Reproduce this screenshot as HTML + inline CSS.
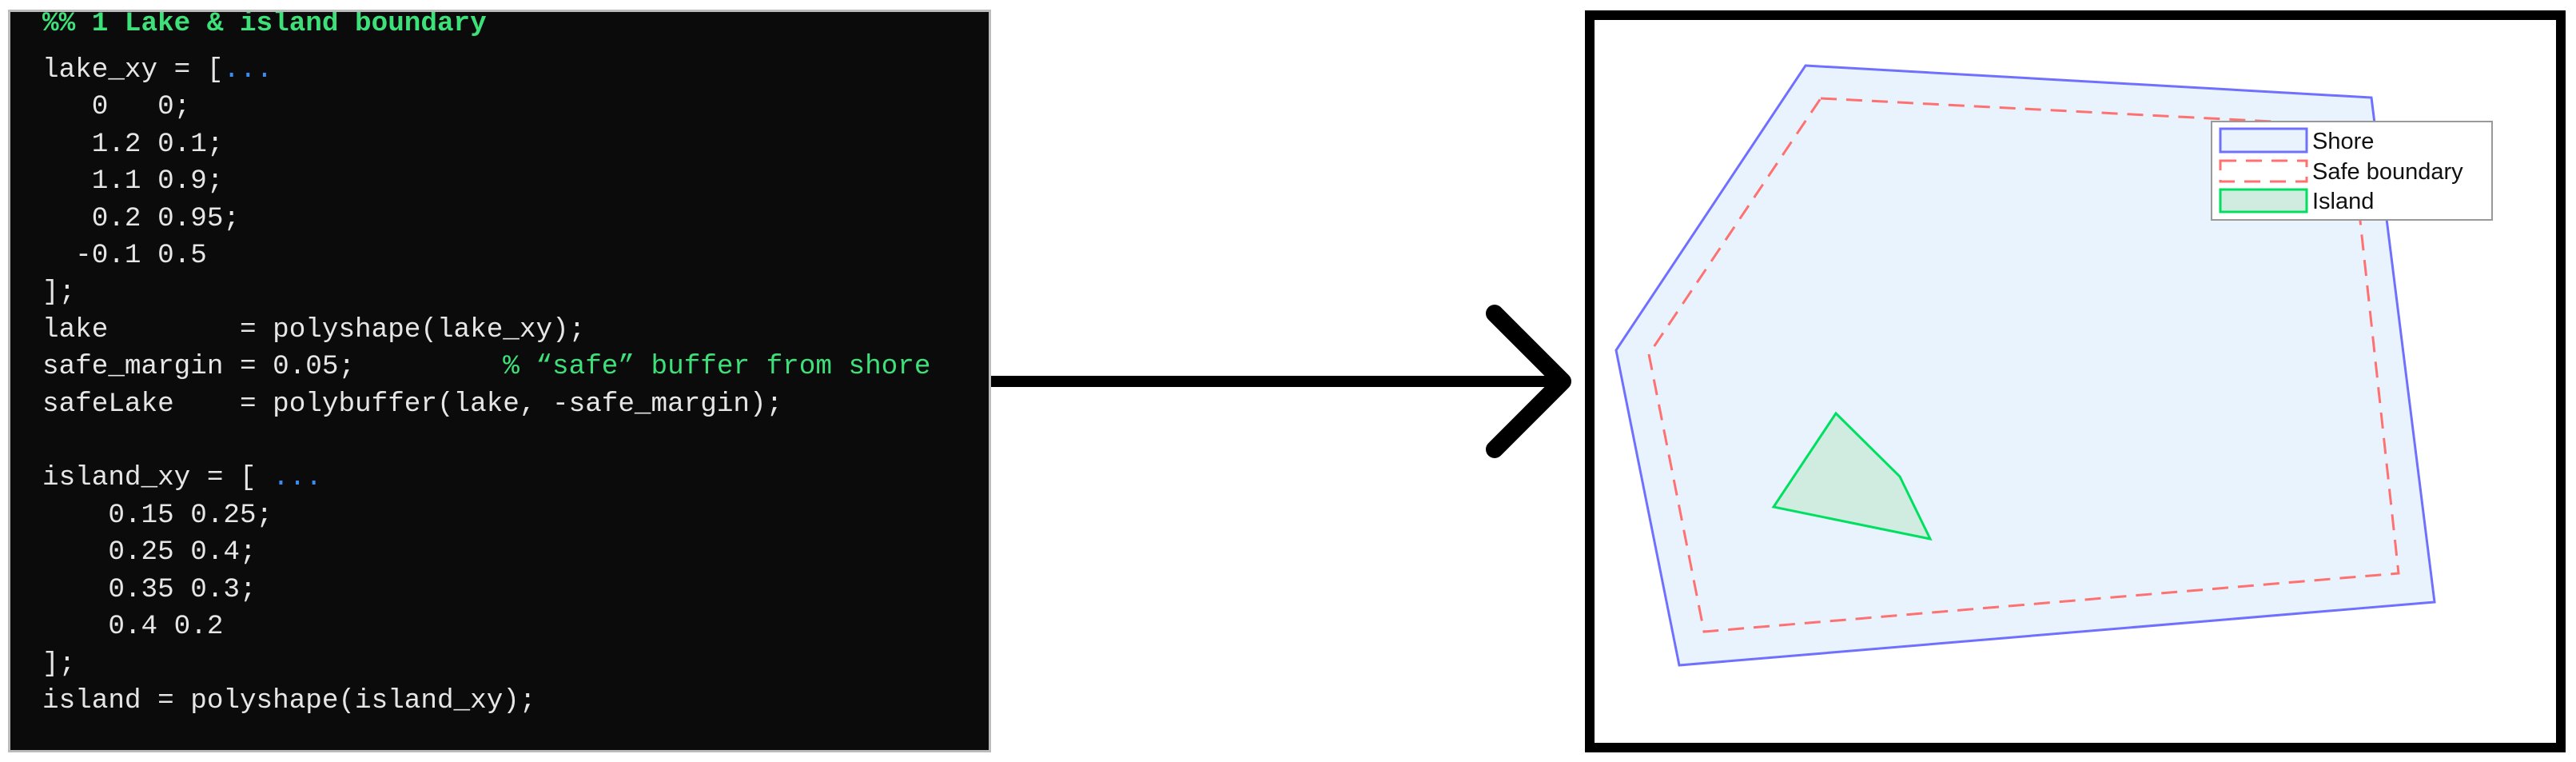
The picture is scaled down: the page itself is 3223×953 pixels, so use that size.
<!DOCTYPE html>
<html><head><meta charset="utf-8"><style>
html,body{margin:0;padding:0;background:#fff;}
body{width:3223px;height:953px;position:relative;overflow:hidden;}
#code{position:absolute;left:10px;top:12px;width:1230px;height:929px;background:#0b0b0b;box-sizing:border-box;border:3px solid #bbb;overflow:hidden;}
#code pre{position:absolute;left:40px;margin:0;font-family:"Liberation Mono",monospace;font-size:34.3px;line-height:46.4px;color:#e6e6e6;}
.g{color:#3ee07a;font-weight:bold}.c{color:#3ee07a}.b{color:#3a8df0}
</style></head><body>
<div id="code"><pre style="top:-8px"><span class="g">%% 1 Lake &amp; island boundary</span></pre><pre style="top:50px">lake_xy = [<span class="b">...</span>
   0   0;
   1.2 0.1;
   1.1 0.9;
   0.2 0.95;
  -0.1 0.5
];
lake        = polyshape(lake_xy);
safe_margin = 0.05;         <span class="c">% “safe” buffer from shore</span>
safeLake    = polybuffer(lake, -safe_margin);

island_xy = [ <span class="b">...</span>
    0.15 0.25;
    0.25 0.4;
    0.35 0.3;
    0.4 0.2
];
island = polyshape(island_xy);</pre></div>
<svg width="3223" height="953" style="position:absolute;left:0;top:0">
<line x1="1240" y1="477" x2="1955" y2="477" stroke="#000" stroke-width="14"/>
<polyline points="1870,392 1955,477 1870,562" fill="none" stroke="#000" stroke-width="22" stroke-linecap="round" stroke-linejoin="round"/>
<rect x="1989" y="19" width="1215" height="916" fill="#fff" stroke="#000" stroke-width="12"/>
<polygon points="2259,82 2967,122 3046,753 2101,832 2022,438" fill="#e8f3fd" stroke="#7070ff" stroke-width="3"/>
<polygon points="2278,123 2940,157 3001,717 2132,790 2063,443" fill="none" stroke="#ff7070" stroke-width="3" stroke-dasharray="20,12"/>
<polygon points="2297,517 2377,596 2415,674 2219,634" fill="#d0ebe0" stroke="#00e060" stroke-width="3"/>
<rect x="2767" y="152" width="351" height="123" fill="#fff" stroke="#999" stroke-width="2"/>
<rect x="2778" y="161" width="108" height="29" fill="#e8f3fd" stroke="#7070ff" stroke-width="3"/>
<rect x="2778" y="201" width="108" height="26" fill="none" stroke="#ff7070" stroke-width="3" stroke-dasharray="20,12"/>
<rect x="2778" y="237" width="108" height="28" fill="#d0ebe0" stroke="#00e060" stroke-width="3"/>
<g font-family="Liberation Sans, sans-serif" font-size="29" fill="#111">
<text x="2893" y="186">Shore</text>
<text x="2893" y="224">Safe boundary</text>
<text x="2893" y="261">Island</text>
</g>
</svg>
</body></html>
